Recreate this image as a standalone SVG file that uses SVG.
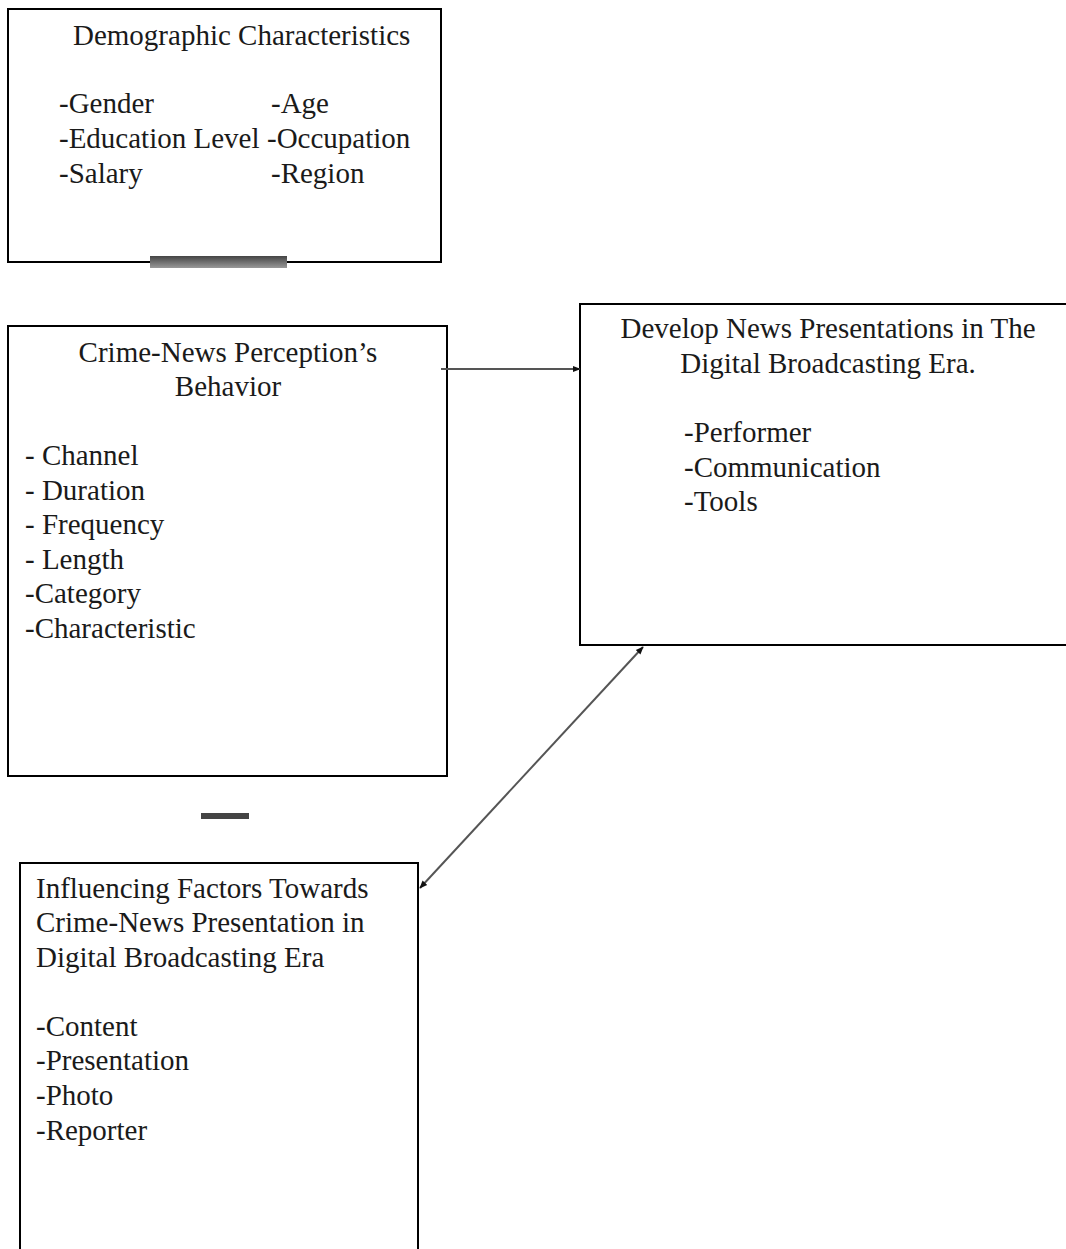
<svg xmlns="http://www.w3.org/2000/svg" width="1066" height="1249" viewBox="0 0 1066 1249">
<style>
.box{fill:#fff;stroke:#000;stroke-width:2}
.t{font-family:"Liberation Serif","Times New Roman",serif;font-size:29px;fill:#1a1a1a}
.c{text-anchor:middle}
.conn{stroke:#555;stroke-width:2;fill:none}
</style>
<defs>
<marker id="ah" viewBox="0 0 10 10" refX="9" refY="5" markerWidth="4" markerHeight="4" orient="auto-start-reverse">
<path d="M0,1 L10,5 L0,9 Z" fill="#111"/>
</marker>
<linearGradient id="bar" x1="0" y1="0" x2="0" y2="1">
<stop offset="0" stop-color="#444"/><stop offset="1" stop-color="#999"/>
</linearGradient>
</defs>
<rect width="1066" height="1249" fill="#fff"/>
<g id="demographic">
<rect class="box" x="8" y="9" width="433" height="253"/>
<text class="t" x="73" y="45">Demographic Characteristics</text>
<text class="t" x="59" y="113">-Gender</text>
<text class="t" x="271" y="113">-Age</text>
<text class="t" x="59" y="148">-Education Level</text>
<text class="t" x="267" y="148">-Occupation</text>
<text class="t" x="59" y="183">-Salary</text>
<text class="t" x="271" y="183">-Region</text>
</g>
<g id="crime-news">
<rect class="box" x="8" y="326" width="439" height="450"/>
<text class="t c" x="228" y="362">Crime-News Perception’s</text>
<text class="t c" x="228" y="396">Behavior</text>
<text class="t" x="25" y="465">- Channel</text>
<text class="t" x="25" y="500">- Duration</text>
<text class="t" x="25" y="534">- Frequency</text>
<text class="t" x="25" y="569">- Length</text>
<text class="t" x="25" y="603">-Category</text>
<text class="t" x="25" y="638">-Characteristic</text>
</g>
<g id="develop">
<rect class="box" x="580" y="304" width="490" height="341"/>
<text class="t c" x="828" y="338">Develop News Presentations in The</text>
<text class="t c" x="828" y="373">Digital Broadcasting Era.</text>
<text class="t" x="684" y="442">-Performer</text>
<text class="t" x="684" y="477">-Communication</text>
<text class="t" x="684" y="511">-Tools</text>
</g>
<g id="influencing">
<rect class="box" x="20" y="863" width="398" height="400"/>
<text class="t" x="36" y="898">Influencing Factors Towards</text>
<text class="t" x="36" y="932">Crime-News Presentation in</text>
<text class="t" x="36" y="967">Digital Broadcasting Era</text>
<text class="t" x="36" y="1036">-Content</text>
<text class="t" x="36" y="1070">-Presentation</text>
<text class="t" x="36" y="1105">-Photo</text>
<text class="t" x="36" y="1140">-Reporter</text>
</g>
<g id="connectors">
<rect x="150" y="256" width="137" height="12" fill="url(#bar)"/>
<rect x="201" y="813" width="48" height="6" fill="#444"/>
<line class="conn" x1="441" y1="369" x2="580" y2="369" stroke="#777" stroke-width="3" marker-end="url(#ah)"/>
<line class="conn" x1="643" y1="647" x2="420" y2="888" marker-start="url(#ah)" marker-end="url(#ah)"/>
</g>
</svg>
